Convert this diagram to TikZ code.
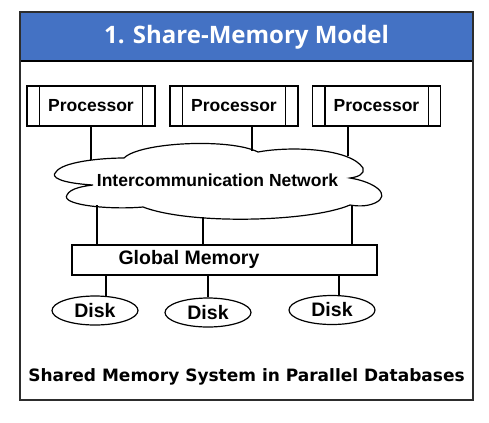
\documentclass[tikz,border=0pt]{standalone}
\usepackage{fontspec}
\setmainfont{Liberation Sans}
\newfontfamily\titlefont{Open Sans}
\newfontfamily\capfont{DejaVu Sans}
\usetikzlibrary{shapes.geometric}
\usetikzlibrary{positioning}
\definecolor{TitleBlue}{RGB}{68,114,196}
\definecolor{FrameGray}{RGB}{45,45,45}
\tikzset{
	wire/.style={line width=1.2bp},
	proc/.style={draw, wire, minimum width=128bp, minimum height=40bp, inner sep=0pt,
		font=\bfseries\fontsize{17.5bp}{20bp}\selectfont},
	disk/.style={draw, wire, ellipse, minimum width=86bp, minimum height=29bp, inner sep=0pt,
		font=\bfseries\fontsize{19.5bp}{22bp}\selectfont},
	membox/.style={draw, wire, minimum width=305bp, minimum height=30bp, inner sep=0pt},
	plain/.style={inner sep=0pt, font=\bfseries\fontsize{17.5bp}{20bp}\selectfont},
}

\begin{document}
\begin{tikzpicture}[x=1bp, y=-1bp]
	\useasboundingbox (0,0) rectangle (489,422);

		% frame and title bar
		\fill [TitleBlue] (20,12) rectangle (473,61);
		\draw [line width=1.2bp] (20,61) -- (473,61);
		\draw [FrameGray, line width=1.5bp] (20,12) rectangle (473,400);
		\node [text=white, font=\titlefont\bfseries\fontsize{24bp}{27bp}\selectfont] (title) at (246.5,37) {1. Share-Memory Model};

		% processors
		\node [proc] (p1) at (91,106) {Processor};
		\node [proc] (p2) at (234,106) {Processor};
		\node [proc] (p3) at (376.5,106) {Processor};
		\foreach \p in {p1,p2,p3}{
			\draw [wire] ([xshift=13bp]\p.north west) -- ([xshift=13bp]\p.south west);
			\draw [wire] ([xshift=-13bp]\p.north east) -- ([xshift=-13bp]\p.south east);
		}

		% network cloud
		\draw [wire, fill=white] (124,158) .. controls (140,142) and (230,138) .. (258,152)
			.. controls (290,146) and (350,148) .. (363,168)
			.. controls (365,174) and (358,177) .. (350,178)
			.. controls (375,182) and (392,195) .. (375,203)
			.. controls (366,207) and (356,206) .. (350,205)
			.. controls (310,222) and (190,225) .. (143,207)
			.. controls (110,210) and (60,205) .. (67,195)
			.. controls (70,188) and (85,186) .. (93,185)
			.. controls (60,183) and (50,177) .. (56,172)
			.. controls (62,162) and (100,158) .. (124,158) -- cycle;
		\node [plain] (net) at (217.5,180) {Intercommunication Network};

		\coordinate (n1) at (91,160);
		\coordinate (n2) at (252,151);
		\coordinate (n3) at (348,155.5);
		\draw [wire] (p1) -- (n1);
		\draw [wire] (n2 |- p2.south) -- (n2);
		\draw [wire] (n3 |- p3.south) -- (n3);

		% global memory
		\node [membox] (mem) at (224.5,260) {};
		\node [plain, font=\bfseries\fontsize{19.5bp}{22bp}\selectfont] (memtxt) at (189,259) {Global Memory};

		\coordinate (b1) at (97,205);
		\coordinate (b2) at (203,217);
		\coordinate (b3) at (352,205);
		\foreach \b in {b1,b2,b3}
			\draw [wire] (\b) -- (\b |- mem.north);

		% disks
		\node [disk] (d1) at (95,310.5) {Disk};
		\node [disk] (d2) at (208,312.5) {Disk};
		\node [disk] (d3) at (332,310) {Disk};
		\coordinate (k1) at (106,296.5);
		\coordinate (k3) at (339,295.5);
		\draw [wire] (mem.south -| k1) -- (k1);
		\draw [wire] (mem.south -| d2) -- (d2);
		\draw [wire] (mem.south -| k3) -- (k3);

		\node [font=\capfont\bfseries\fontsize{17bp}{20bp}\selectfont] (cap) at (246.5,377) {Shared Memory System in Parallel Databases};
	\end{tikzpicture}
\end{document}
